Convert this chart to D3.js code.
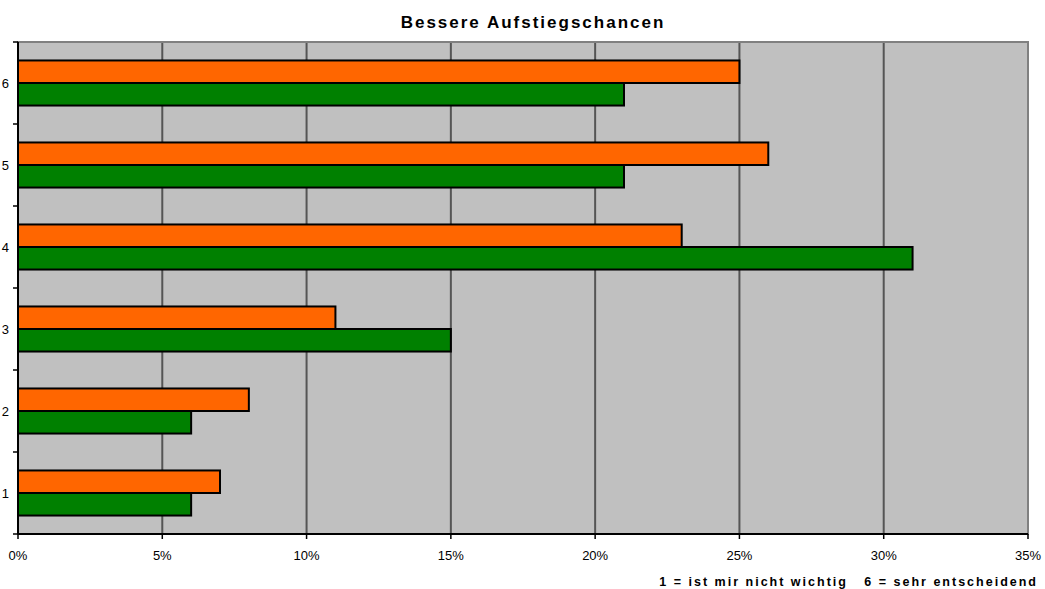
<!DOCTYPE html>
<html><head><meta charset="utf-8">
<script src="https://cdn.jsdelivr.net/npm/d3@7/dist/d3.min.js"></script>
<style>body{margin:0;background:#fff;}svg{display:block;font-family:"Liberation Sans",Arial,sans-serif;}</style>
</head><body>
<svg id="c" width="1045" height="589"></svg>
<script>
const categories = ["1","2","3","4","5","6"];
const greenValues = [6, 6, 15, 31, 21, 21];
const orangeValues = [7, 8, 11, 23, 26, 25];
const xTicks = [0,5,10,15,20,25,30,35];
const title = "Bessere Aufstiegschancen";
const footer = "1 = ist mir nicht wichtig   6 = sehr entscheidend";

const svg = d3.select("#c");
const L = 18, R = 1028, T = 42, B = 534;
const x = d3.scaleLinear().domain([0,35]).range([L,R]);
const y = d3.scaleBand().domain(categories.slice().reverse()).range([T,B]).paddingInner(0).paddingOuter(0);
const inner = d3.scaleBand().domain(["orange","green"]).range([0,y.bandwidth()]).paddingInner(0).paddingOuter(0.82);

svg.append("rect").attr("x",L).attr("y",T).attr("width",R-L).attr("height",B-T).attr("fill","#C0C0C0");
svg.append("g").selectAll("line").data(xTicks.slice(1,-1)).join("line")
  .attr("x1",d=>x(d)).attr("x2",d=>x(d)).attr("y1",T).attr("y2",B)
  .attr("stroke","#555").attr("stroke-width",2);
svg.append("rect").attr("x",L).attr("y",T).attr("width",R-L).attr("height",B-T)
  .attr("fill","none").attr("stroke","#808080").attr("stroke-width",2);

const data = categories.map((c,i)=>({c, green:greenValues[i], orange:orangeValues[i]}));
const g = svg.append("g");
[["orange","#FF6600"],["green","#008000"]].forEach(([k,col])=>{
  g.selectAll("rect."+k).data(data).join("rect").attr("class",k)
   .attr("x",x(0)).attr("y",d=>y(d.c)+inner(k)).attr("width",d=>x(d[k])-x(0)).attr("height",inner.bandwidth())
   .attr("fill",col).attr("stroke","#000").attr("stroke-width",2);
});

const yAxis = svg.append("g").attr("transform",`translate(${L},0)`);
yAxis.append("line").attr("x1",0).attr("x2",0).attr("y1",T).attr("y2",B).attr("stroke","#000").attr("stroke-width",2);
const bounds = d3.range(categories.length+1).map(i=>T+i*y.step());
yAxis.selectAll("line.t").data(bounds).join("line").attr("class","t")
  .attr("x1",-5).attr("x2",0).attr("y1",d=>d).attr("y2",d=>d).attr("stroke","#000").attr("stroke-width",1.5);
yAxis.selectAll("text").data(categories).join("text")
  .attr("x",-9).attr("y",d=>y(d)+y.bandwidth()/2).attr("dy","0.35em").attr("text-anchor","end")
  .attr("font-size",13).attr("fill","#000").text(d=>d);

const xAxis = svg.append("g");
xAxis.append("line").attr("x1",L).attr("x2",R).attr("y1",B).attr("y2",B).attr("stroke","#000").attr("stroke-width",2);
xAxis.selectAll("line.t").data(xTicks).join("line").attr("class","t")
  .attr("x1",d=>x(d)).attr("x2",d=>x(d)).attr("y1",B).attr("y2",B+5).attr("stroke","#000").attr("stroke-width",1.5);
xAxis.selectAll("text").data(xTicks).join("text")
  .attr("x",d=>x(d)).attr("y",B+26).attr("text-anchor","middle").attr("font-size",13).attr("fill","#000")
  .text(d=>d+"%");

svg.append("text").attr("x",533).attr("y",28).attr("text-anchor","middle").attr("font-size",17)
  .attr("font-weight","bold").attr("letter-spacing","2px").text(title);
svg.append("text").attr("x",1038).attr("y",586).attr("text-anchor","end").attr("font-size",12.5)
  .attr("font-weight","bold").attr("letter-spacing","2px").style("white-space","pre").text(footer);
</script>
</body></html>
